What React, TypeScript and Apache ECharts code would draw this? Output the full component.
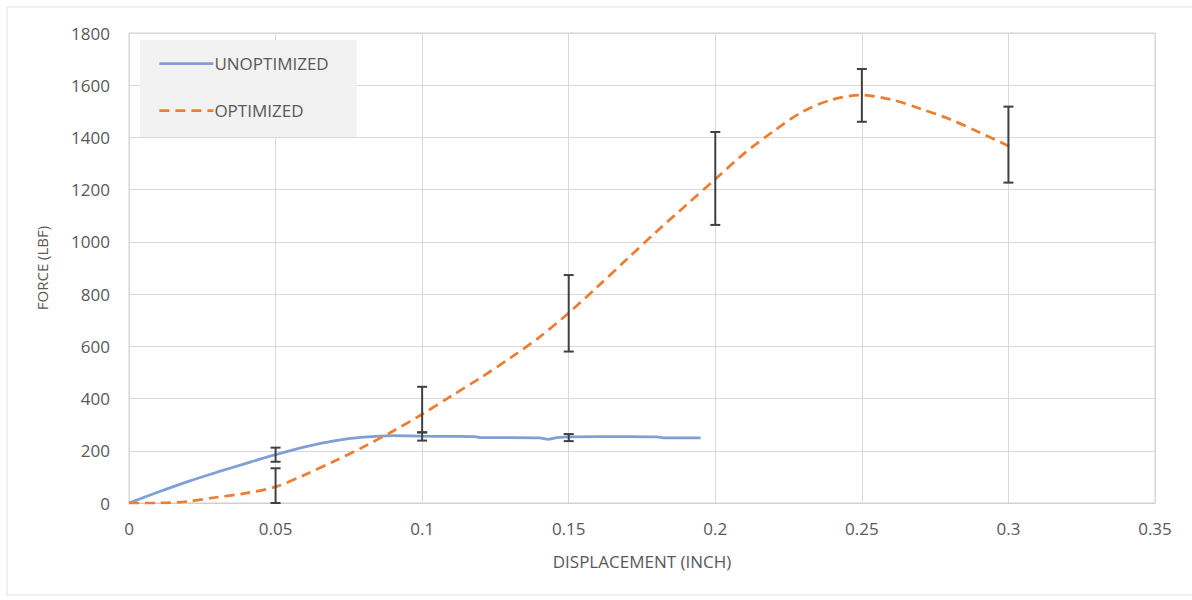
import React, { useEffect, useRef } from "react";
import * as echarts from "echarts";

const xTicks = [0, 0.05, 0.1, 0.15, 0.2, 0.25, 0.3, 0.35];
const yTicks = [0, 200, 400, 600, 800, 1000, 1200, 1400, 1600, 1800];

const unoptX = [0, 0.01, 0.02, 0.03, 0.04, 0.05, 0.06, 0.07, 0.08, 0.09, 0.1, 0.11, 0.118, 0.12, 0.13, 0.14, 0.143, 0.146, 0.15, 0.16, 0.17, 0.18, 0.183, 0.19, 0.195];
const unoptY = [0, 42, 82, 118, 152, 185, 215, 238, 252, 258, 256, 255, 254, 250, 250, 249, 244, 250, 253, 254, 254, 253, 249, 249, 249];

const optX = [0, 0.01, 0.02, 0.03, 0.04, 0.05, 0.06, 0.07, 0.08, 0.09, 0.1, 0.11, 0.12, 0.13, 0.14, 0.15, 0.16, 0.17, 0.18, 0.19, 0.2, 0.21, 0.22, 0.23, 0.24, 0.25, 0.26, 0.27, 0.28, 0.29, 0.301];
const optY = [0, 0, 6, 22, 38, 62, 108, 160, 215, 275, 340, 410, 480, 555, 635, 728, 830, 935, 1040, 1140, 1240, 1340, 1425, 1500, 1545, 1562, 1545, 1510, 1470, 1420, 1362];

const errX = [0.05, 0.05, 0.1, 0.1, 0.15, 0.15, 0.2, 0.25, 0.3];
const errLow = [158, 0, 239, 271, 237, 580, 1065, 1460, 1227];
const errHigh = [212, 133, 270, 445, 264, 873, 1421, 1662, 1518];

const blue = "#7f9fd6";
const orange = "#ed7d31";
const textColor = "#595959";
const gridColor = "#d9d9d9";
const font = "'Open Sans', 'Noto Sans', sans-serif";

export default function App() {
  const ref = useRef<HTMLDivElement>(null);
  useEffect(() => {
    if (!ref.current) return;
    const chart = echarts.init(ref.current, null, { renderer: "svg" });
    const option: any = {
      animation: false,
      backgroundColor: "#ffffff",
      graphic: [
        {
          type: "rect",
          shape: { x: 7, y: 7, width: 1200, height: 588 },
          style: { fill: "none", stroke: "#e0e0e0", lineWidth: 1 },
          silent: true,
          z: -1,
        },
      ],
      grid: { left: 129, right: 37, top: 33, bottom: 97, show: true, borderColor: "#d0d0d0", borderWidth: 1 },
      legend: {
        orient: "vertical",
        left: 140,
        top: 40,
        padding: [15, 28, 18, 18],
        backgroundColor: "#f2f2f2",
        itemWidth: 54,
        itemHeight: 14,
        itemGap: 30,
        itemStyle: { opacity: 0 },
        lineStyle: { width: 2.75 },
        textStyle: { color: textColor, fontSize: 17, lineHeight: 17, fontFamily: font, padding: [0, 0, 0, -4] },
        data: [
          { name: "UNOPTIMIZED" },
          { name: "OPTIMIZED" },
        ],
      },
      xAxis: {
        type: "value",
        min: 0,
        max: 0.35,
        interval: 0.05,
        name: "DISPLACEMENT (INCH)",
        nameLocation: "middle",
        nameGap: 50,
        nameTextStyle: { color: textColor, fontSize: 17, fontFamily: font },
        axisLine: { show: true, lineStyle: { color: "#d0d0d0" } },
        axisTick: { show: false },
        splitLine: { show: true, lineStyle: { color: gridColor, width: 1 } },
        axisLabel: {
          color: textColor,
          fontSize: 17,
          fontFamily: font,
          margin: 17,
          formatter: (v: number) => {
            const t = xTicks.find((k) => Math.abs(k - v) < 1e-9);
            return t === undefined ? "" : String(t);
          },
        },
      },
      yAxis: {
        type: "value",
        min: 0,
        max: 1800,
        interval: 200,
        name: "FORCE (LBF)",
        nameLocation: "middle",
        nameGap: 80,
        nameTextStyle: { color: textColor, fontSize: 15, fontFamily: font },
        axisLine: { show: false },
        axisTick: { show: false },
        splitLine: { show: true, lineStyle: { color: gridColor, width: 1 } },
        axisLabel: {
          color: textColor,
          fontSize: 17,
          fontFamily: font,
          margin: 19,
          formatter: (v: number) => (yTicks.includes(v) ? String(v) : ""),
        },
      },
      series: [
        {
          name: "UNOPTIMIZED",
          type: "line",
          symbol: "none",
          smooth: 0.3,
          data: unoptX.map((x, i) => [x, unoptY[i]]),
          lineStyle: { color: blue, width: 2.75 },
          itemStyle: { color: blue },
          z: 3,
        },
        {
          name: "OPTIMIZED",
          type: "line",
          symbol: "none",
          smooth: 0.3,
          data: optX.map((x, i) => [x, optY[i]]),
          lineStyle: { color: orange, width: 2.75, type: [10, 6] },
          itemStyle: { color: orange },
          z: 4,
        },
        {
          name: "errors",
          type: "custom",
          z: 5,
          data: errX.map((x, i) => [x, errLow[i], errHigh[i]]),
          renderItem: (params: any, api: any) => {
            const x = api.value(0);
            const lo = api.coord([x, api.value(1)]);
            const hi = api.coord([x, api.value(2)]);
            const cap = 5;
            const style = { stroke: "#404040", lineWidth: 2 };
            return {
              type: "group",
              children: [
                { type: "line", shape: { x1: lo[0], y1: lo[1], x2: hi[0], y2: hi[1] }, style },
                { type: "line", shape: { x1: hi[0] - cap, y1: hi[1], x2: hi[0] + cap, y2: hi[1] }, style },
                { type: "line", shape: { x1: lo[0] - cap, y1: lo[1], x2: lo[0] + cap, y2: lo[1] }, style },
              ],
            };
          },
        },
      ],
    };
    chart.setOption(option);
    return () => chart.dispose();
  }, []);
  return <div ref={ref} style={{ width: 1192, height: 600, position: "absolute", left: 0, top: 0 }} />;
}
